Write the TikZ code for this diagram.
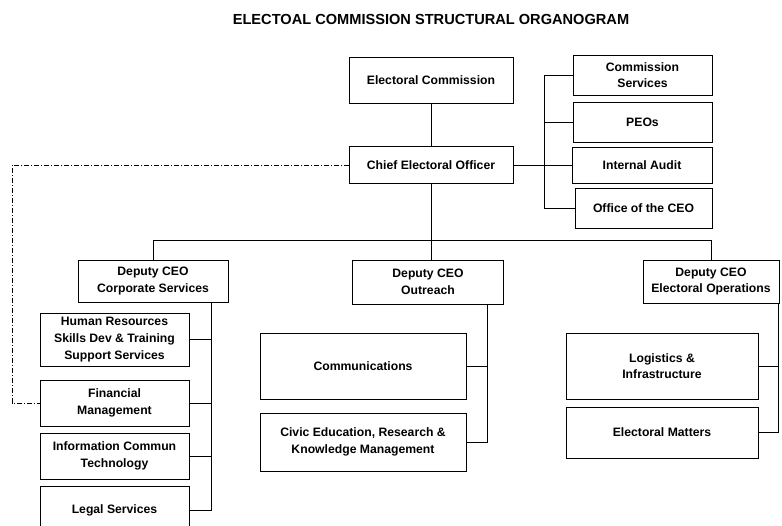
\documentclass[tikz,border=0pt]{standalone}
\usepackage{fontspec}
\setmainfont{Liberation Sans}
\usetikzlibrary{calc}
\tikzstyle{unit} = [rectangle, draw=black, fill=white, line width=0.8pt, align=center, inner sep=2pt, font=\bfseries\fontsize{12.2}{16.6}\selectfont]
\tikzstyle{line} = [line width=0.8pt]
\tikzstyle{dotline} = [line width=0.7pt, dash pattern=on 5pt off 2pt on 1pt off 2pt]

\begin{document}
\begin{tikzpicture}[x=1pt,y=-1pt]
\useasboundingbox (0,0) rectangle (782,525);
\node (title) at (431,19) {\bfseries\fontsize{14.6}{17}\selectfont ELECTOAL COMMISSION STRUCTURAL ORGANOGRAM};

% commission and CEO office
\node (ec) [unit, minimum width=164pt, minimum height=46pt] at (431,80) {Electoral Commission};
\node (ceo) [unit, minimum width=164pt, minimum height=37pt] at (431,165) {Chief Electoral Officer};
\node (cs) [unit, minimum width=139pt, minimum height=40pt] at (642.5,75) {Commission\\Services};
\node (peo) [unit, minimum width=139pt, minimum height=40pt] at (642.5,122) {PEOs};
\node (audit) [unit, minimum width=140pt, minimum height=36pt] at (642,165) {Internal Audit};
\node (office) [unit, minimum width=137pt, minimum height=40pt] at (643.5,208) {Office of the CEO};

% deputies
\node (dcs) [unit, minimum width=150pt, minimum height=42pt] at (153,281) {Deputy CEO\\Corporate Services};
\node (dout) [unit, minimum width=151pt, minimum height=44pt] at (428,282) {Deputy CEO\\Outreach};
\node (dops) [unit, minimum width=136pt, minimum height=43pt] at (711,281.5) {Deputy CEO\\Electoral Operations};

% corporate services
\node (hr) [unit, minimum width=149pt, minimum height=53pt] at (114.5,339.5) {Human Resources\\Skills Dev \& Training\\Support Services};
\node (fin) [unit, minimum width=149pt, minimum height=46pt] at (114.5,403) {Financial\\Management};
\node (ict) [unit, minimum width=149pt, minimum height=46pt] at (114.5,456) {Information Commun\\Technology};
\node (legal) [unit, minimum width=149pt, minimum height=48pt] at (114.5,510) {Legal Services};

% outreach
\node (comm) [unit, minimum width=206pt, minimum height=66pt] at (363,366) {Communications};
\node (civic) [unit, minimum width=206pt, minimum height=58pt] at (363,442) {Civic Education, Research \&\\Knowledge Management};

% electoral operations
\node (log) [unit, minimum width=192pt, minimum height=66pt] at (662,366) {Logistics \&\\Infrastructure};
\node (em) [unit, minimum width=192pt, minimum height=51pt] at (662,432.5) {Electoral Matters};

\coordinate (rbus) at (544,0);
\coordinate (tbus) at (0,240);
\coordinate (cbus) at (211,0);
\coordinate (obus) at (487,0);
\coordinate (pbus) at (778,0);
\coordinate (aside) at (12,0);

\draw [line] (ec) -- (ceo);
\draw [line] (ceo.east) -- (audit.west);
\draw [line] (cs.west) -| (rbus |- office.west) -- (office.west);
\draw [line] (peo.west) -- (peo.west -| rbus);

\draw [line] (ceo.south) -- (ceo.south |- dout.north);
\draw [line] (dcs.north) |- (dops.north |- tbus) -- (dops.north);

\draw [line] (dcs.south -| cbus) |- (legal.east);
\foreach \n in {hr,fin,ict}
  \draw [line] (\n.east) -- (\n.east -| cbus);

\draw [line] (dout.south -| obus) |- (civic.east);
\draw [line] (comm.east) -- (comm.east -| obus);

\draw [line] (dops.south -| pbus) |- (em.east);
\draw [line] (log.east) -- (log.east -| pbus);

\draw [dotline] (ceo.west) -| (aside |- fin.west) -- (fin.west);
\end{tikzpicture}
\end{document}
